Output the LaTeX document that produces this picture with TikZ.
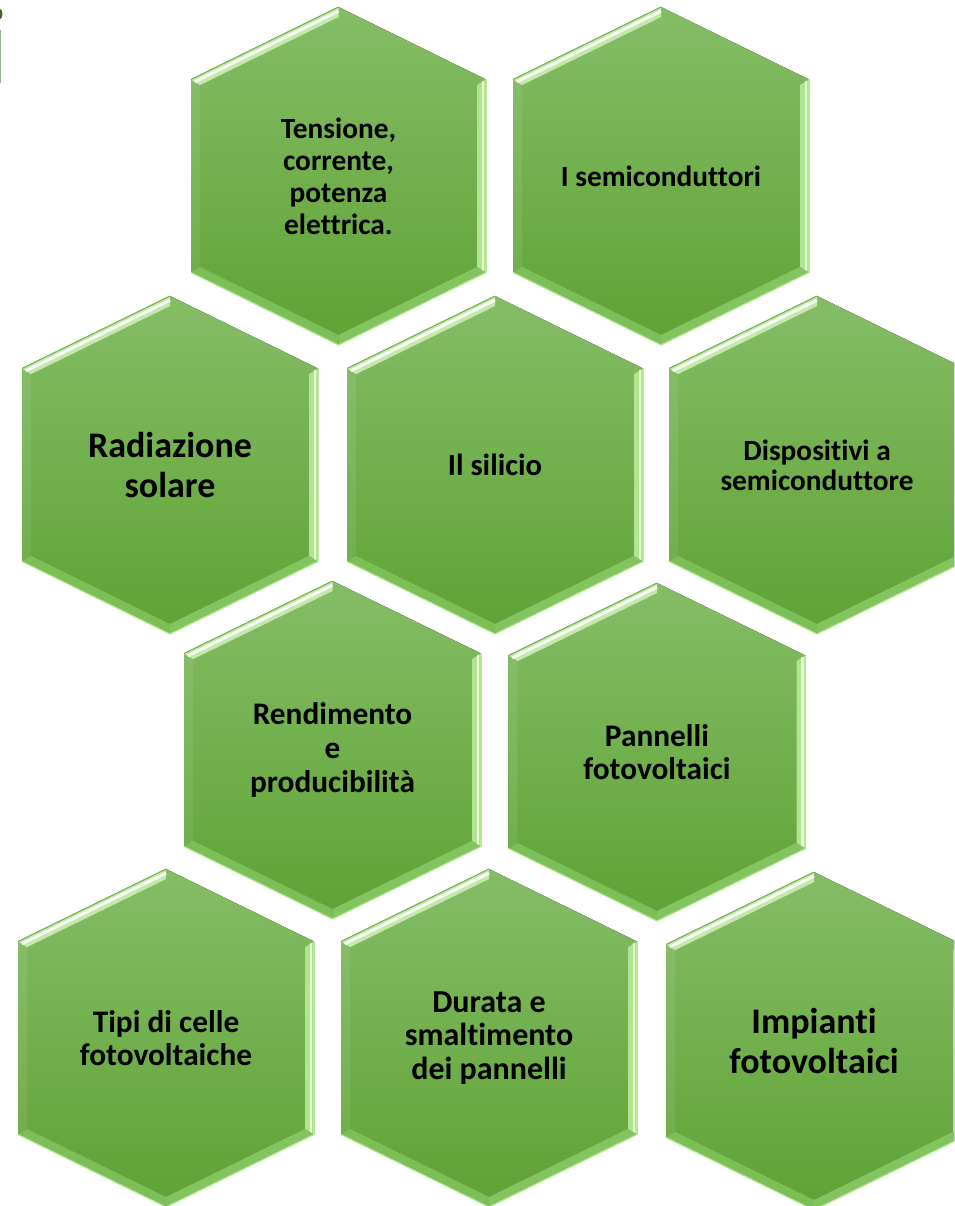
\documentclass[tikz,border=0pt]{standalone}
\usepackage{fontspec}
\setmainfont{Carlito}[Ligatures=NoCommon]
\usetikzlibrary{calc}
\definecolor{hexTop}{HTML}{85BD67}
\definecolor{hexBot}{HTML}{5FA234}
\definecolor{hexHiA}{HTML}{C4E9AA}
\definecolor{hexHiB}{HTML}{B2E391}
\definecolor{hexHiC}{HTML}{E4FFD2}
\definecolor{hexHiD}{HTML}{84C460}
\definecolor{hexHiE}{HTML}{7CBE58}
\definecolor{hexEdge}{HTML}{B4EC92}
\definecolor{hexEdgeT}{HTML}{72B44E}
\definecolor{markDark}{HTML}{3F6B2A}
\definecolor{markLine}{HTML}{9AAF8C}
\tikzset{
  hextext/.style={align=center, text=black, inner sep=0pt},
  hexbody/.style={top color=hexTop, bottom color=hexBot},
  hexgloss/.style={white, line width=2.2pt, opacity=.9},
  hexglossR/.style={hexHiC, line width=2pt},
  hexedge/.style={hexEdge, line width=.8pt, line join=round},
  hexedgeT/.style={hexEdgeT, line width=.8pt}
}
% #1 name, #2 cx, #3 cy, #4 half width, #5 font, #6 text
\newcommand\drawhex[6]{%
  \pgfmathsetmacro\hxT{72.5/#4}%
  \pgfmathsetmacro\hxC{sqrt(1+\hxT*\hxT)}%
  \pgfmathsetmacro\hxF{9*\hxC}%
  \pgfmathsetmacro\hxE{9*(\hxC-\hxT)}%
  \coordinate (#1-t)  at (#2,#3-169);
  \coordinate (#1-tr) at (#2+#4,#3-96.5);
  \coordinate (#1-br) at (#2+#4,#3+96.5);
  \coordinate (#1-b)  at (#2,#3+169);
  \coordinate (#1-bl) at (#2-#4,#3+96.5);
  \coordinate (#1-tl) at (#2-#4,#3-96.5);
  \coordinate (#1-ti)  at (#2,#3-169+\hxF);
  \coordinate (#1-tri) at (#2+#4-9,#3-96.5+\hxE);
  \coordinate (#1-bri) at (#2+#4-9,#3+96.5-\hxE);
  \coordinate (#1-bi)  at (#2,#3+169-\hxF);
  \coordinate (#1-bli) at (#2-#4+9,#3+96.5-\hxE);
  \coordinate (#1-tli) at (#2-#4+9,#3-96.5+\hxE);
  \fill[hexbody] (#1-t)--(#1-tr)--(#1-br)--(#1-b)--(#1-bl)--(#1-tl)--cycle;
  \fill[white, opacity=.08] (#1-tl)--(#1-tli)--(#1-bli)--(#1-bl)--cycle;
  \fill[hexHiA] (#1-tl)--(#1-t)--(#1-ti)--(#1-tli)--cycle;
  \draw[hexgloss] ($(#1-tl)!.42!(#1-tli)$)--($(#1-t)!.42!(#1-ti)$);
  \fill[hexHiB] (#1-tr)--(#1-br)--(#1-bri)--(#1-tri)--cycle;
  \draw[hexglossR] ($(#1-tr)!.35!(#1-tri)$)--($(#1-br)!.35!(#1-bri)$);
  \fill[hexHiD] (#1-br)--(#1-b)--(#1-bi)--(#1-bri)--cycle;
  \fill[hexHiE] (#1-b)--(#1-bl)--(#1-bli)--(#1-bi)--cycle;
  \draw[hexedge] (#1-bl)--(#1-b)--(#1-br)--(#1-tr);
  \draw[hexedgeT] (#1-tl)--(#1-t);
  \node[hextext, font=#5] (#1) at (#2,#3) {#6};
}
\begin{document}
\begin{tikzpicture}[x=0.75pt, y=-0.75pt]
\clip (0,0) rectangle (954,1206);
\fill[white] (0,0) rectangle (954,1206);
% small mark at the top left edge
\fill[markDark] (0,14) ellipse [x radius=2.5, y radius=5];
\draw[markLine, line width=.8pt] (0.5,30) -- (0.5,83);
% row 1
\drawhex{tens}{338.5}{176}{147.5}{\fontsize{22}{24}\selectfont\bfseries}{Tensione,\\corrente,\\potenza\\elettrica.}
\drawhex{semi}{661}{176}{148}{\fontsize{22}{24}\selectfont\bfseries}{I semiconduttori}
% row 2
\drawhex{radi}{170}{465}{148}{\fontsize{27}{30}\selectfont\bfseries}{Radiazione\\solare}
\drawhex{sili}{495}{465}{148}{\fontsize{23}{25}\selectfont\bfseries}{Il silicio}
\drawhex{disp}{817}{465}{148}{\fontsize{22}{22.5}\selectfont\bfseries}{Dispositivi a\\semiconduttore}
% row 3
\drawhex{rend}{332.5}{750}{148.5}{\fontsize{23.5}{25.5}\selectfont\bfseries}{Rendimento\\e\\producibilità}
\drawhex{pann}{657}{752}{148.5}{\fontsize{23.5}{25}\selectfont\bfseries}{Pannelli\\fotovoltaici}
% row 4
\drawhex{tipi}{166}{1038}{148}{\fontsize{23.5}{25}\selectfont\bfseries}{Tipi di celle\\fotovoltaiche}
\drawhex{dura}{489}{1038}{148}{\fontsize{24}{25}\selectfont\bfseries}{Durata e\\smaltimento\\dei pannelli}
\drawhex{impi}{814}{1041}{148}{\fontsize{27}{30}\selectfont\bfseries}{Impianti\\fotovoltaici}
\end{tikzpicture}
\end{document}
